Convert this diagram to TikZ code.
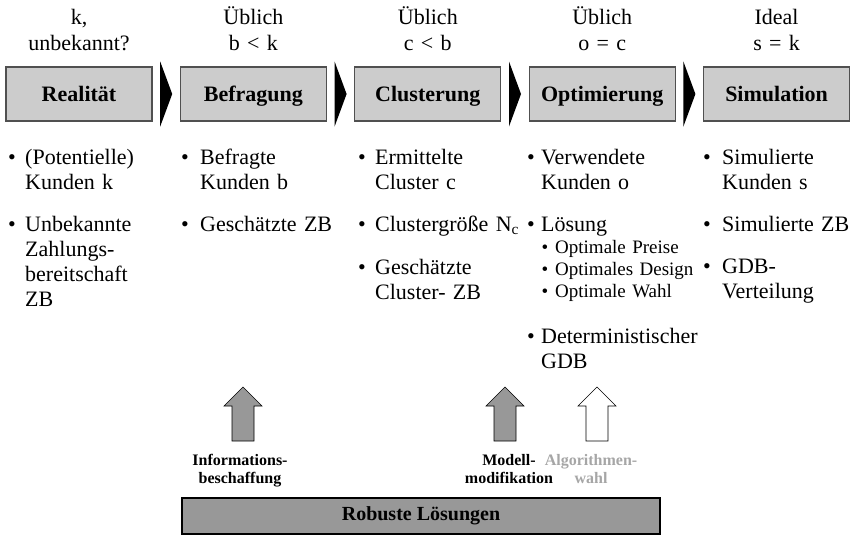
\documentclass[tikz,border=0pt]{standalone}
\usepackage{fontspec}
\setmainfont{Liberation Serif}
\usepackage{xcolor,tikz}
\usetikzlibrary{positioning,calc}
\definecolor{prcBoxFill}{HTML}{CCCCCC}
\definecolor{prcBoxLine}{HTML}{505050}
\definecolor{prcBarFill}{HTML}{989898}
\definecolor{prcGreyText}{HTML}{A6A6A6}

\begin{document}
\begin{tikzpicture}[x=1pt, y=-1pt]
\useasboundingbox (0,0) rectangle (850,536);

%% PHASES (header + box) =============================================
\foreach [count=\i] \hdA/\hdB/\lab in {%
  {k,}/unbekannt?/Realität,%
  Üblich/{b < k}/Befragung,%
  Üblich/{c < b}/Clusterung,%
  Üblich/{o = c}/Optimierung,%
  Ideal/{s = k}/Simulation%
} {
  \pgfmathsetmacro\cx{79 + (\i - 1) * 174.4}
  \node[draw=prcBoxLine, fill=prcBoxFill, line width=1.2pt,
        minimum width=146pt, minimum height=54pt, inner sep=0pt,
        text height=18pt, text depth=4pt,
        font=\fontsize{22}{26}\selectfont\bfseries]
    (ph\i) at (\cx, 94) {\lab};
  \node[text width=150pt, align=center, inner sep=0pt, anchor=base,
        font=\fontsize{22}{26}\selectfont]
    (hd\i) at (\cx, 24) {\hdA\\\hdB};
}

% black chevrons between the phases
\foreach \i in {1,...,4} {
  \pgfmathtruncatemacro\j{\i + 1}
  \coordinate (gap\i) at ($(ph\i.east)!0.5!(ph\j.west)$);
  \fill ($(gap\i) + (-6,-32.5)$) -- ($(gap\i) + (6,0)$)
        -- ($(gap\i) + (-6,32.5)$) -- cycle;
}

%% BULLET LISTS =====================================================
\tikzset{
  bul/.style={inner sep=0pt, anchor=base, font=\fontsize{22}{25}\selectfont},
  itm/.style={inner sep=0pt, anchor=base west, text width=160pt, align=left,
              font=\fontsize{22}{25}\selectfont},
  subbul/.style={bul, font=\fontsize{19}{22}\selectfont},
  subitm/.style={itm, font=\fontsize{19}{22}\selectfont}
}
\foreach [count=\k] \bx/\tx/\ty/\txt in {%
  12/25/164/{(Potentielle)\\Kunden k},%
  12/25/231/{Unbekannte\\Zahlungs-\\bereitschaft\\ZB},%
  185/200/164/{Befragte\\Kunden b},%
  185/200/231/{Geschätzte ZB},%
  362/375/164/{Ermittelte\\Cluster c},%
  362/375/231/{Clustergröße N\textsubscript{c}},%
  362/375/274/{Geschätzte\\Cluster- ZB},%
  531/541/164/{Verwendete\\Kunden o},%
  531/541/231/{Lösung},%
  531/541/343/{Deterministischer\\GDB},%
  707/722/164/{Simulierte\\Kunden s},%
  707/722/231/{Simulierte ZB},%
  707/722/273/{GDB-\\Verteilung}%
} {
  \node[bul] (dot\k) at (\bx, \ty) {\textbullet};
  \node[itm] (item\k) at (\tx, \ty) {\txt};
}

% sub-list under Lösung
\foreach [count=\k] \ty/\txt in {%
  253/Optimale Preise,%
  275/Optimales Design,%
  297/Optimale Wahl%
} {
  \node[subbul] (subdot\k) at (545, \ty) {\textbullet};
  \node[subitm] (subitem\k) at (555, \ty) {\txt};
}

%% LEVERS + ROBUST BAR ==============================================
\foreach \ax/\fc in {243/prcBarFill, 505/prcBarFill, 597/white} {
  \draw[fill=\fc, line width=0.6pt]
    (\ax-11,441) -- (\ax-11,406) -- (\ax-19,406) -- (\ax,387)
    -- (\ax+19,406) -- (\ax+11,406) -- (\ax+11,441) -- cycle;
}

\node[text width=120pt, align=center, inner sep=0pt, anchor=base,
      font=\fontsize{16}{18}\selectfont\bfseries]
  (info) at (240, 465) {Informations-\\beschaffung};
\node[text width=120pt, align=center, inner sep=0pt, anchor=base,
      font=\fontsize{16}{18}\selectfont\bfseries]
  (modmod) at (509, 465) {Modell-\\modifikation};
\node[text width=120pt, align=center, inner sep=0pt, anchor=base,
      font=\fontsize{16}{18}\selectfont\bfseries, text=prcGreyText]
  (algo) at (591, 465) {Algorithmen-\\wahl};

\node[draw, fill=prcBarFill, line width=1.2pt, minimum width=478pt,
      minimum height=36pt, inner sep=0pt,
      font=\fontsize{20}{24}\selectfont\bfseries]
  (robust) at (421, 516) {Robuste Lösungen};

\end{tikzpicture}
\end{document}
